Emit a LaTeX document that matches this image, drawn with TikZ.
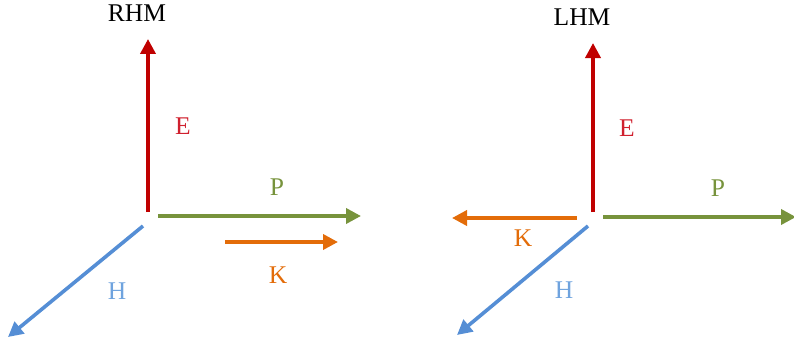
\documentclass[tikz,border=0pt]{standalone}
\usepackage{fontspec}
\setmainfont{Liberation Serif}
\usetikzlibrary{arrows.meta}
\definecolor{cE}{HTML}{C00000}
\definecolor{cP}{HTML}{77933C}
\definecolor{cK}{HTML}{E36C09}
\definecolor{cH}{HTML}{558ED5}
\definecolor{tE}{HTML}{D0202E}
\definecolor{tH}{HTML}{6FA3DE}
\tikzset{
  vec/.style={line width=3.6pt, -{Triangle[length=15pt,width=15pt]}},
  lbl/.style={inner sep=0pt, font=\fontsize{25.5}{30}\selectfont},
}
\begin{document}
\begin{tikzpicture}[x=1pt,y=-1pt]
\useasboundingbox (0,0) rectangle (794,345);
% Left: RHM
\node[lbl] (rhm) at (137,13) {RHM};
\coordinate (e1s) at (148,212); \coordinate (e1t) at (148,39);
\coordinate (p1s) at (158,216); \coordinate (p1t) at (361,216);
\coordinate (k1s) at (225,242); \coordinate (k1t) at (338,242);
\coordinate (h1s) at (143,226); \coordinate (h1t) at (8,337);
\draw[vec,cE] (e1s) -- (e1t);
\draw[vec,cP] (p1s) -- (p1t);
\draw[vec,cK] (k1s) -- (k1t);
\draw[vec,cH] (h1s) -- (h1t);
\node[lbl,text=tE] (e1) at (183,126) {E};
\node[lbl,text=cP] (p1) at (277,187) {P};
\node[lbl,text=cK] (k1) at (278,275) {K};
\node[lbl,text=tH] (h1) at (117,291) {H};
% Right: LHM
\node[lbl] (lhm) at (582,17) {LHM};
\coordinate (e2s) at (593,212); \coordinate (e2t) at (593,43);
\coordinate (p2s) at (603,217); \coordinate (p2t) at (796,217);
\coordinate (k2s) at (577,218); \coordinate (k2t) at (452,218);
\coordinate (h2s) at (588,226); \coordinate (h2t) at (457,335);
\draw[vec,cE] (e2s) -- (e2t);
\draw[vec,cP] (p2s) -- (p2t);
\draw[vec,cK] (k2s) -- (k2t);
\draw[vec,cH] (h2s) -- (h2t);
\node[lbl,text=tE] (e2) at (627,128) {E};
\node[lbl,text=cP] (p2) at (718,188) {P};
\node[lbl,text=cK] (k2) at (523,238) {K};
\node[lbl,text=tH] (h2) at (564,290) {H};
\end{tikzpicture}
\end{document}
